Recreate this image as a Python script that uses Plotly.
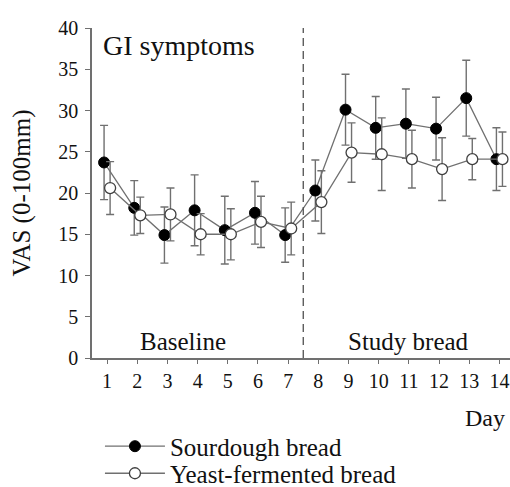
import plotly.graph_objects as go

days = list(range(1, 15))
sourdough = [23.7, 18.2, 14.9, 17.9, 15.5, 17.6, 14.9, 20.3, 30.1, 27.9, 28.4, 27.8, 31.5, 24.1]
sourdough_err = [4.5, 3.3, 3.4, 4.3, 4.1, 3.8, 3.3, 3.7, 4.3, 3.8, 4.2, 3.8, 4.6, 3.8]
yeast = [20.6, 17.3, 17.4, 15.0, 15.0, 16.5, 15.7, 18.9, 24.9, 24.7, 24.1, 22.9, 24.1, 24.1]
yeast_err = [3.2, 2.2, 3.2, 2.5, 3.1, 3.1, 3.2, 3.8, 3.6, 4.4, 3.5, 3.8, 2.5, 3.3]
dodge = 0.1

FONT = "Liberation Serif, Times New Roman, serif"
GRAY = "#707070"

fig = go.Figure()
fig.add_trace(go.Scatter(
    x=[d - dodge for d in days], y=sourdough, name="Sourdough bread",
    mode="lines+markers",
    line=dict(color=GRAY, width=1.3),
    marker=dict(symbol="circle", size=11, color="black", line=dict(color="black", width=1)),
    error_y=dict(type="data", array=sourdough_err, visible=True, color=GRAY, thickness=1.4, width=4),
    legend="legend",
))
fig.add_trace(go.Scatter(
    x=[d + dodge for d in days], y=yeast, name="Yeast-fermented bread",
    mode="lines+markers",
    line=dict(color=GRAY, width=1.3),
    marker=dict(symbol="circle", size=11, color="white", line=dict(color="#404040", width=1.3)),
    error_y=dict(type="data", array=yeast_err, visible=True, color=GRAY, thickness=1.4, width=4),
    legend="legend2",
))

fig.add_shape(type="line", x0=7.5, x1=7.5, y0=0, y1=40, xref="x", yref="y",
              line=dict(color="#505050", width=1.3, dash="8px,5px"))

fig.add_annotation(x=0.8, y=37.9, xref="x", yref="y", text="GI symptoms", showarrow=False,
                   xanchor="left", yanchor="middle", font=dict(family=FONT, size=28, color="#111"))
fig.add_annotation(x=3.5, y=1.97, xref="x", yref="y", text="Baseline", showarrow=False,
                   xanchor="center", yanchor="middle", font=dict(family=FONT, size=25, color="#111"))
fig.add_annotation(x=11.0, y=1.97, xref="x", yref="y", text="Study bread", showarrow=False,
                   xanchor="center", yanchor="middle", font=dict(family=FONT, size=25, color="#111"))
fig.add_annotation(x=0.993, y=-0.183, xref="paper", yref="paper", text="Day", showarrow=False,
                   xanchor="right", yanchor="middle", font=dict(family=FONT, size=24, color="#111"))

legend_common = dict(
    xref="paper", yref="paper", xanchor="left", yanchor="middle",
    bgcolor="rgba(0,0,0,0)", font=dict(family=FONT, size=25, color="#111"),
    itemwidth=60,
)

fig.update_layout(
    width=510, height=487,
    margin=dict(l=92, r=0, t=28, b=129, autoexpand=False),
    paper_bgcolor="white", plot_bgcolor="white",
    font=dict(family=FONT, size=20, color="#111"),
    showlegend=True,
    legend=dict(x=0.019, y=-0.268, **legend_common),
    legend2=dict(x=0.019, y=-0.35, **legend_common),
    xaxis=dict(
        range=[0.5, 14.35], tickmode="array", tickvals=days, ticktext=[str(d) for d in days],
        showgrid=False, zeroline=False, showline=True, linecolor=GRAY, linewidth=1.5,
        ticks="outside", ticklen=4, tickcolor=GRAY, tickwidth=1.3, ticklabelstandoff=0,
        tickfont=dict(family=FONT, size=20, color="#111"),
    ),
    yaxis=dict(
        range=[0, 40], tickvals=[0, 5, 10, 15, 20, 25, 30, 35, 40],
        showgrid=False, zeroline=False, showline=True, linecolor=GRAY, linewidth=1.5,
        ticks="outside", ticklen=5, tickcolor=GRAY, tickwidth=1.3, ticklabelstandoff=3,
        tickfont=dict(family=FONT, size=20, color="#111"),
        title=dict(text="VAS (0-100mm)", font=dict(family=FONT, size=25, color="#111"), standoff=21),
    ),
)

fig.write_html("out.html", config={"displayModeBar": False},
               post_script="document.body.style.margin='0';document.body.style.overflow='hidden';")
